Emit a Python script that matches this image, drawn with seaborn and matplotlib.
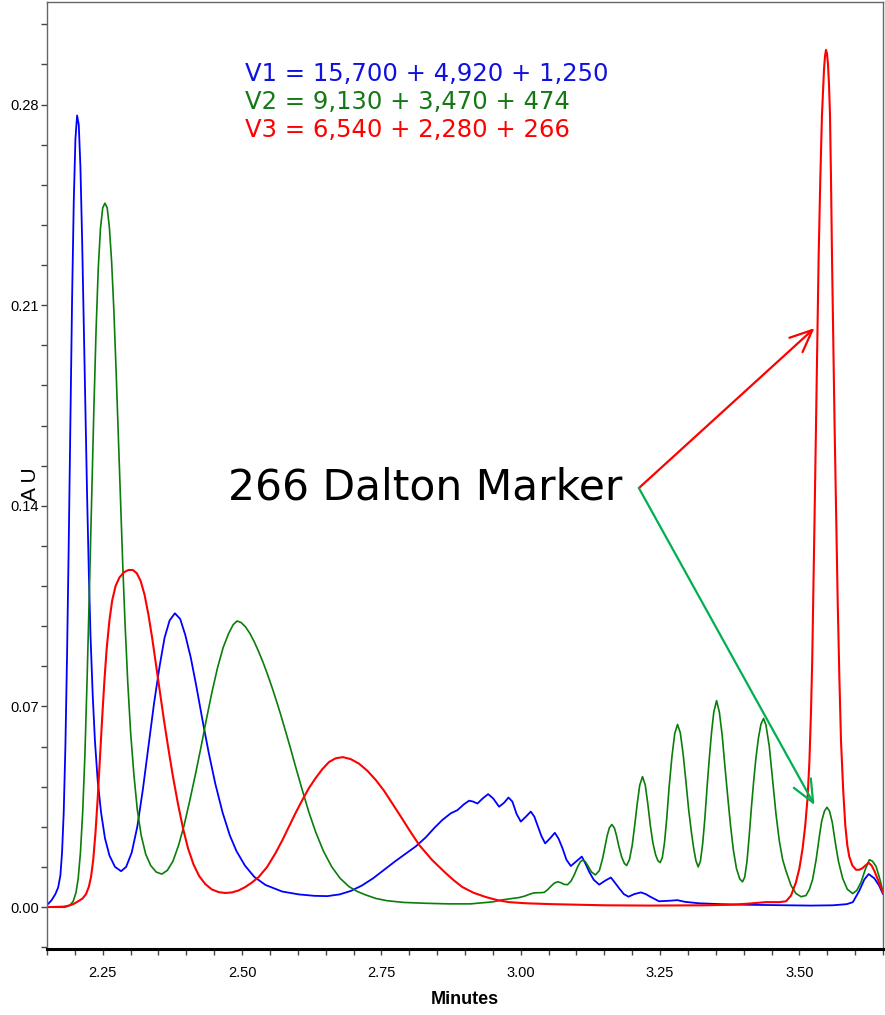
import matplotlib
matplotlib.use("Agg")
import matplotlib.pyplot as plt
from matplotlib.ticker import MultipleLocator, FormatStrFormatter
import seaborn as sns
import pandas as pd

# ---------------- data: (minutes, AU) ----------------
v1_points = [
    (2.150, 0.0007), (2.158, 0.0023), (2.165, 0.0045), (2.170, 0.0068), (2.174, 0.0110),
    (2.177, 0.0190), (2.180, 0.0330), (2.183, 0.0560), (2.186, 0.0880), (2.189, 0.1270),
    (2.192, 0.1700), (2.195, 0.2120), (2.198, 0.2460), (2.201, 0.2680), (2.204, 0.2762),
    (2.207, 0.2730), (2.210, 0.2580), (2.213, 0.2330), (2.216, 0.2030), (2.219, 0.1720),
    (2.222, 0.1430), (2.225, 0.1170), (2.228, 0.0950), (2.232, 0.0740), (2.236, 0.0580),
    (2.241, 0.0440), (2.247, 0.0330), (2.254, 0.0240), (2.262, 0.0180), (2.272, 0.0140),
    (2.283, 0.0125), (2.292, 0.0140), (2.302, 0.0190), (2.312, 0.0280), (2.322, 0.0410),
    (2.332, 0.0560), (2.342, 0.0710), (2.352, 0.0840), (2.361, 0.0940), (2.370, 0.1000),
    (2.3795, 0.1025), (2.389, 0.1005), (2.398, 0.0950), (2.408, 0.0870), (2.418, 0.0770),
    (2.429, 0.0652), (2.440, 0.0540), (2.452, 0.0430), (2.465, 0.0330), (2.478, 0.0250),
    (2.490, 0.0195), (2.505, 0.0145), (2.522, 0.0105), (2.542, 0.0077), (2.572, 0.0054),
    (2.602, 0.0044), (2.630, 0.0039), (2.653, 0.0038), (2.675, 0.0044), (2.695, 0.0056),
    (2.715, 0.0075), (2.735, 0.0100), (2.755, 0.0130), (2.775, 0.0160), (2.795, 0.0188),
    (2.812, 0.0212), (2.8296, 0.0243), (2.8445, 0.0275), (2.8595, 0.0304), (2.8745, 0.0327),
    (2.8864, 0.0338), (2.8984, 0.0359), (2.9074, 0.0371), (2.9145, 0.0368), (2.9223, 0.0361),
    (2.9313, 0.0378), (2.9415, 0.0394), (2.9505, 0.0379), (2.9612, 0.0350), (2.9702, 0.0364),
    (2.9780, 0.0382), (2.9850, 0.0368), (2.9925, 0.0325), (3.0001, 0.0298), (3.0091, 0.0315),
    (3.0181, 0.0333), (3.0245, 0.0315), (3.0300, 0.0286), (3.0370, 0.0248), (3.0438, 0.0222),
    (3.0528, 0.0240), (3.0612, 0.0259), (3.0680, 0.0238), (3.0749, 0.0205), (3.0820, 0.0165),
    (3.0899, 0.0143), (3.1001, 0.0160), (3.1096, 0.0176), (3.1165, 0.0150), (3.1228, 0.0123),
    (3.1310, 0.0095), (3.1408, 0.0078), (3.1515, 0.0092), (3.1617, 0.0103), (3.1690, 0.0085),
    (3.1767, 0.0065), (3.1850, 0.0045), (3.1934, 0.0036), (3.2036, 0.0045), (3.2156, 0.0051),
    (3.2245, 0.0045), (3.2305, 0.0038), (3.248, 0.0020), (3.268, 0.0022), (3.281, 0.0024),
    (3.295, 0.0018), (3.320, 0.0013), (3.360, 0.0010), (3.400, 0.0008), (3.440, 0.0007),
    (3.480, 0.0006), (3.520, 0.0005), (3.560, 0.0006), (3.585, 0.0010), (3.596, 0.0017),
    (3.6075, 0.0057), (3.6165, 0.0096), (3.6243, 0.0115), (3.6345, 0.0100), (3.6430, 0.0075),
    (3.650, 0.0045),
]

v2_points = [
    (2.150, 0.0000), (2.180, 0.0002), (2.191, 0.0006), (2.197, 0.0020), (2.202, 0.0050),
    (2.206, 0.0100), (2.210, 0.0190), (2.214, 0.0330), (2.218, 0.0530), (2.222, 0.0800),
    (2.226, 0.1100), (2.230, 0.1420), (2.234, 0.1730), (2.238, 0.2010), (2.242, 0.2230),
    (2.246, 0.2370), (2.250, 0.2440), (2.254, 0.2456), (2.258, 0.2440), (2.262, 0.2370),
    (2.266, 0.2250), (2.270, 0.2080), (2.274, 0.1870), (2.278, 0.1640), (2.282, 0.1410),
    (2.286, 0.1190), (2.290, 0.0990), (2.295, 0.0780), (2.300, 0.0610), (2.306, 0.0460),
    (2.312, 0.0340), (2.319, 0.0250), (2.327, 0.0185), (2.336, 0.0145), (2.346, 0.0122),
    (2.356, 0.0115), (2.366, 0.0128), (2.376, 0.0160), (2.386, 0.0215), (2.396, 0.0285),
    (2.406, 0.0370), (2.416, 0.0460), (2.426, 0.0555), (2.436, 0.0655), (2.446, 0.0750),
    (2.456, 0.0835), (2.466, 0.0905), (2.476, 0.0955), (2.484, 0.0985), (2.491, 0.0998),
    (2.498, 0.0993), (2.506, 0.0978), (2.514, 0.0955), (2.522, 0.0925), (2.530, 0.0890),
    (2.538, 0.0852), (2.546, 0.0810), (2.554, 0.0765), (2.562, 0.0717), (2.570, 0.0667),
    (2.578, 0.0614), (2.586, 0.0560), (2.596, 0.0490), (2.607, 0.0415), (2.620, 0.0330),
    (2.632, 0.0262), (2.646, 0.0195), (2.661, 0.0140), (2.676, 0.0100), (2.692, 0.0071),
    (2.707, 0.0054), (2.722, 0.0042), (2.740, 0.0030), (2.760, 0.0022), (2.790, 0.0016),
    (2.830, 0.0013), (2.870, 0.0011), (2.910, 0.0011), (2.950, 0.0018),
    (2.967, 0.0025), (2.985, 0.0030), (2.997, 0.0033), (3.007, 0.0038), (3.015, 0.0044),
    (3.023, 0.0049), (3.030, 0.0050), (3.036, 0.0050), (3.042, 0.0051), (3.048, 0.0060),
    (3.054, 0.0072), (3.060, 0.0083), (3.066, 0.0088), (3.072, 0.0085), (3.078, 0.0079),
    (3.084, 0.0078), (3.090, 0.0090), (3.096, 0.0112), (3.102, 0.0140), (3.107, 0.0158),
    (3.111, 0.0164), (3.116, 0.0158), (3.121, 0.0142), (3.127, 0.0122), (3.134, 0.0112),
    (3.141, 0.0127), (3.147, 0.0170), (3.151, 0.0210), (3.155, 0.0248), (3.159, 0.0276),
    (3.1635, 0.0288), (3.168, 0.0276), (3.172, 0.0248), (3.176, 0.0212), (3.181, 0.0175),
    (3.186, 0.0152), (3.190, 0.0145), (3.195, 0.0165), (3.200, 0.0215), (3.2045, 0.0285),
    (3.209, 0.0360), (3.2135, 0.0425), (3.2185, 0.0455), (3.2235, 0.0425), (3.228, 0.0360),
    (3.2325, 0.0285), (3.237, 0.0225), (3.242, 0.0182), (3.246, 0.0162), (3.2502, 0.0155),
    (3.2540, 0.0172), (3.2580, 0.0225), (3.2620, 0.0310), (3.2663, 0.0420), (3.2713, 0.0525),
    (3.2763, 0.0605), (3.2813, 0.0637), (3.2863, 0.0608), (3.2913, 0.0535), (3.2963, 0.0440),
    (3.3013, 0.0340), (3.3063, 0.0260), (3.3103, 0.0205), (3.3143, 0.0162), (3.3184, 0.0140),
    (3.3224, 0.0160), (3.3264, 0.0220), (3.3304, 0.0310), (3.3344, 0.0420), (3.3384, 0.0520),
    (3.3424, 0.0610), (3.3464, 0.0680), (3.3514, 0.0720), (3.3564, 0.0680), (3.3614, 0.0600),
    (3.3664, 0.0490), (3.3714, 0.0385), (3.3764, 0.0285), (3.3814, 0.0200), (3.3870, 0.0135),
    (3.3930, 0.0098), (3.3980, 0.0088), (3.4020, 0.0105), (3.4060, 0.0160), (3.4100, 0.0250),
    (3.4140, 0.0350), (3.4180, 0.0440), (3.4220, 0.0520), (3.4265, 0.0590), (3.4310, 0.0638),
    (3.4357, 0.0658), (3.4400, 0.0635), (3.4460, 0.0560), (3.4520, 0.0440), (3.4580, 0.0324),
    (3.4640, 0.0230), (3.4700, 0.0165), (3.4759, 0.0126), (3.4850, 0.0075), (3.4938, 0.0047),
    (3.5030, 0.0036), (3.5118, 0.0040), (3.5180, 0.0062), (3.5237, 0.0096), (3.5300, 0.0165),
    (3.5357, 0.0245), (3.5400, 0.0300), (3.5450, 0.0335), (3.5495, 0.0348), (3.5540, 0.0335),
    (3.5590, 0.0295), (3.5644, 0.0225), (3.5700, 0.0160), (3.5776, 0.0100), (3.5860, 0.0062),
    (3.5956, 0.0047), (3.6030, 0.0058), (3.6105, 0.0086), (3.6180, 0.0130), (3.6255, 0.0165),
    (3.6310, 0.0160), (3.6375, 0.0142), (3.6440, 0.0100), (3.6506, 0.0047),
]

v3_points = [
    (2.150, 0.0000), (2.182, 0.0000), (2.197, 0.0010), (2.206, 0.0020), (2.214, 0.0030),
    (2.220, 0.0045), (2.225, 0.0070), (2.229, 0.0105), (2.233, 0.0165), (2.237, 0.0260),
    (2.241, 0.0380), (2.245, 0.0520), (2.249, 0.0660), (2.253, 0.0790), (2.257, 0.0900),
    (2.262, 0.1000), (2.267, 0.1070), (2.273, 0.1120), (2.280, 0.1150), (2.288, 0.1168),
    (2.296, 0.1176), (2.304, 0.1176), (2.311, 0.1165), (2.318, 0.1138), (2.325, 0.1090),
    (2.332, 0.1020), (2.339, 0.0935), (2.346, 0.0840), (2.353, 0.0745), (2.360, 0.0650),
    (2.368, 0.0550), (2.376, 0.0455), (2.385, 0.0360), (2.394, 0.0275), (2.403, 0.0205),
    (2.413, 0.0148), (2.423, 0.0108), (2.434, 0.0080), (2.446, 0.0061), (2.458, 0.0052),
    (2.470, 0.0049), (2.482, 0.0051), (2.494, 0.0058), (2.506, 0.0070), (2.518, 0.0086),
    (2.530, 0.0105), (2.545, 0.0140), (2.560, 0.0188), (2.572, 0.0232), (2.584, 0.0280),
    (2.596, 0.0328), (2.608, 0.0373), (2.620, 0.0415), (2.632, 0.0450), (2.644, 0.0481),
    (2.656, 0.0506), (2.668, 0.0519), (2.681, 0.0523), (2.695, 0.0516), (2.710, 0.0500),
    (2.725, 0.0475), (2.740, 0.0443), (2.755, 0.0405), (2.769, 0.0363), (2.785, 0.0315),
    (2.800, 0.0269), (2.818, 0.0216), (2.841, 0.0164), (2.865, 0.0119), (2.880, 0.0093),
    (2.895, 0.0070), (2.915, 0.0050), (2.937, 0.0035), (2.958, 0.0024), (2.979, 0.0017),
    (3.010, 0.0013), (3.056, 0.0010), (3.150, 0.0006), (3.231, 0.0005), (3.330, 0.0006),
    (3.380, 0.0008), (3.410, 0.0012), (3.440, 0.0017), (3.464, 0.0017), (3.476, 0.0020),
    (3.485, 0.0040), (3.4938, 0.0086), (3.5000, 0.0135), (3.5058, 0.0205), (3.5105, 0.0285),
    (3.5148, 0.0384), (3.5180, 0.0510), (3.5208, 0.0681), (3.5230, 0.0860), (3.5249, 0.1077),
    (3.5273, 0.1370), (3.5297, 0.1672), (3.5321, 0.1970), (3.5345, 0.2267), (3.5375, 0.2540),
    (3.5405, 0.2763), (3.5441, 0.2921), (3.5459, 0.2968), (3.5477, 0.2991), (3.5495, 0.2978),
    (3.5513, 0.2941), (3.5531, 0.2870), (3.5549, 0.2763), (3.5567, 0.2540), (3.5585, 0.2267),
    (3.5608, 0.1970), (3.5632, 0.1672), (3.5659, 0.1370), (3.5686, 0.1077), (3.5716, 0.0810),
    (3.5746, 0.0582), (3.5785, 0.0410), (3.5824, 0.0284), (3.5860, 0.0215), (3.5896, 0.0175),
    (3.5950, 0.0145), (3.6016, 0.0130), (3.6075, 0.0130), (3.6135, 0.0136), (3.6190, 0.0146),
    (3.6243, 0.0154), (3.6295, 0.0145), (3.6345, 0.0126), (3.6420, 0.0090), (3.6506, 0.0047),
]

legend_lines = ["V1 = 15,700 + 4,920 + 1,250",
                "V2 = 9,130 + 3,470 + 474",
                "V3 = 6,540 + 2,280 + 266"]
marker_label = "266 Dalton Marker"
marker_origin = (3.212, 0.1462)
marker_targets = [(3.527, 0.2020), (3.527, 0.0356)]
y_ticks = [0.00, 0.07, 0.14, 0.21, 0.28]
x_ticks = [2.25, 2.50, 2.75, 3.00, 3.25, 3.50]

# ---------------- styling ----------------
sns.set_style("ticks")
plt.rcParams["font.family"] = ["DejaVu Sans"]
TICKFONT = ["Liberation Sans", "DejaVu Sans"]

c_blue, c_green, c_red = "#0000ff", "#0a7d0a", "#ff0000"

fig = plt.figure(figsize=(8.85, 10.15), dpi=100)
ax = fig.add_axes([47 / 885, 1 - 949 / 1015, (883 - 47) / 885, (949 - 2) / 1015])

for pts, c, lw in [(v1_points, c_blue, 1.3),
                   (v2_points, c_green, 1.2),
                   (v3_points, c_red, 1.5)]:
    df = pd.DataFrame(pts, columns=["Minutes", "AU"])
    sns.lineplot(data=df, x="Minutes", y="AU", color=c, linewidth=lw,
                 ax=ax, estimator=None, sort=False)

ax.set_xlim(2.15, 3.65)
ax.set_ylim(-0.01465, 0.3158)
ax.set_xticks(x_ticks)
ax.set_yticks(y_ticks)
ax.xaxis.set_minor_locator(MultipleLocator(0.05))
ax.yaxis.set_minor_locator(MultipleLocator(0.014))
ax.yaxis.set_major_formatter(FormatStrFormatter("%.2f"))
ax.xaxis.set_major_formatter(FormatStrFormatter("%.2f"))
ax.tick_params(axis="both", which="both", direction="out", length=4, width=1,
               color="#444444", labelcolor="black")
ax.tick_params(axis="y", pad=2)
ax.tick_params(axis="x", pad=8)
for lab in ax.get_xticklabels() + ax.get_yticklabels():
    lab.set_family(TICKFONT)
    lab.set_fontsize(10.5)
ax.set_xlabel("")
ax.set_ylabel("")

for side in ["left", "top", "right"]:
    ax.spines[side].set_color("#666666")
    ax.spines[side].set_linewidth(1.0)
ax.spines["bottom"].set_color("black")
ax.spines["bottom"].set_linewidth(2.2)

fig.text(465 / 885, 1 - 1000 / 1015, "Minutes", ha="center", va="center",
         family=TICKFONT, fontsize=13, fontweight="bold", color="black")
fig.text(30 / 885, 1 - 484 / 1015, "A U", ha="center", va="center",
         rotation=90, family=TICKFONT, fontsize=15, color="black")

for i, (txt, col) in enumerate(zip(legend_lines, ["#1010e0", "#147814", "#ff0000"])):
    fig.text(245 / 885, 1 - (74 + 28 * i) / 1015, txt, ha="left", va="center",
             color=col, fontsize=17.5)

fig.text(228 / 885, 1 - 488 / 1015, marker_label, ha="left", va="center",
         color="black", fontsize=30.5)

for (tx, ty), col in zip(marker_targets, ["#ff0000", "#00b050"]):
    ax.annotate("", xy=(tx, ty), xytext=marker_origin,
                arrowprops=dict(arrowstyle="->,head_length=0.8,head_width=0.35",
                                color=col, lw=1.6, shrinkA=0, shrinkB=0,
                                mutation_scale=20))

fig.savefig("out.png", dpi=100)
